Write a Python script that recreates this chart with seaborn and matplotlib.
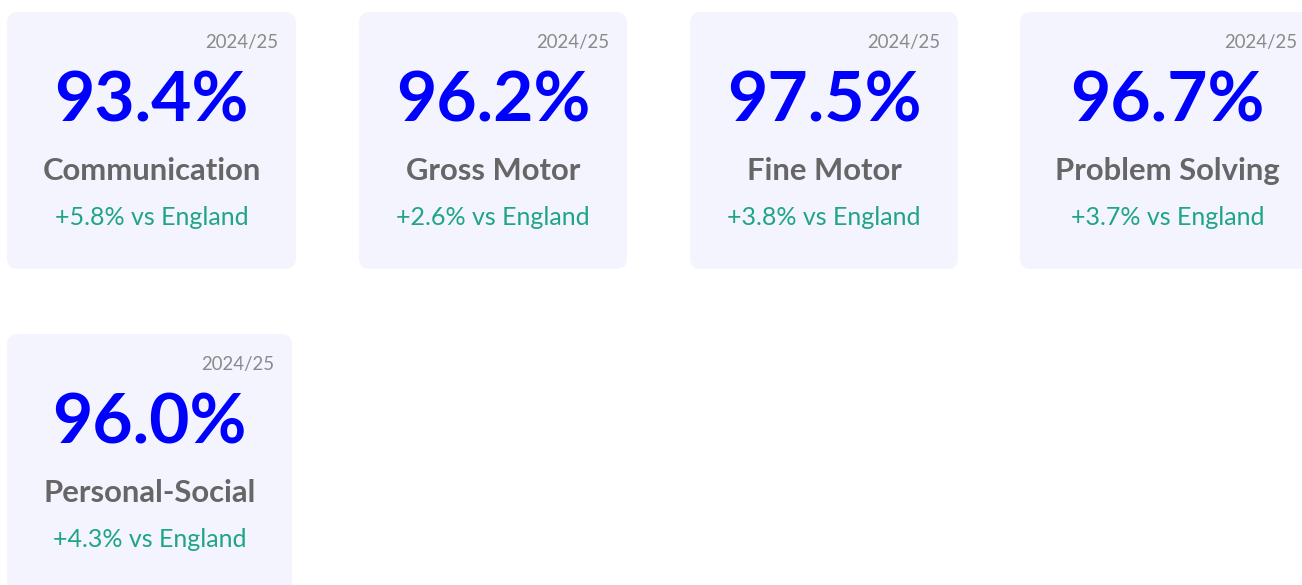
import matplotlib
matplotlib.use("Agg")
import matplotlib.pyplot as plt
from matplotlib.patches import FancyBboxPatch
import seaborn as sns

# KPI values (2024/25)
domains = ["Communication", "Gross Motor", "Fine Motor", "Problem Solving", "Personal-Social"]
values = [93.4, 96.2, 97.5, 96.7, 96.0]
vs_england = [5.8, 2.6, 3.8, 3.7, 4.3]
period = "2024/25"

# card layout in pixels (left, top, width, height)
card_boxes = [
    (7, 12, 289, 257),
    (359, 12, 268, 257),
    (690, 12, 268, 257),
    (1020, 12, 295, 257),
    (7, 334, 285, 270),
]

CARD_BG = "#f3f4fe"
VALUE_BLUE = "#0000ff"
LABEL_GREY = "#666666"
DATE_GREY = "#8a8a8a"
DIFF_GREEN = "#1fa584"

sns.set_theme(style="white")
plt.rcParams["font.family"] = ["Lato", "DejaVu Sans"]

W, H = 1302, 585
fig = plt.figure(figsize=(W / 100, H / 100), dpi=100)
ax = fig.add_axes([0, 0, 1, 1])
ax.set_xlim(0, W)
ax.set_ylim(H, 0)
ax.axis("off")

for name, val, diff, (x, y, w, h) in zip(domains, values, vs_england, card_boxes):
    ax.add_patch(FancyBboxPatch((x, y), w, h,
                                boxstyle="round,pad=0,rounding_size=11",
                                facecolor=CARD_BG, edgecolor="none"))
    cx = x + w / 2
    ax.text(x + w - 18, y + 36, period, ha="right", va="baseline",
            fontsize=13.4, color=DATE_GREY)
    ax.text(cx, y + 110, f"{val:.1f}%", ha="center", va="baseline",
            fontsize=50, fontweight="bold", color=VALUE_BLUE)
    ax.text(cx, y + 168, name, ha="center", va="baseline",
            fontsize=22.3, fontweight="bold", color=LABEL_GREY)
    ax.text(cx, y + 213, f"+{diff:.1f}% vs England", ha="center", va="baseline",
            fontsize=18, color=DIFF_GREEN)

fig.savefig("out.png", dpi=100, facecolor="white")
